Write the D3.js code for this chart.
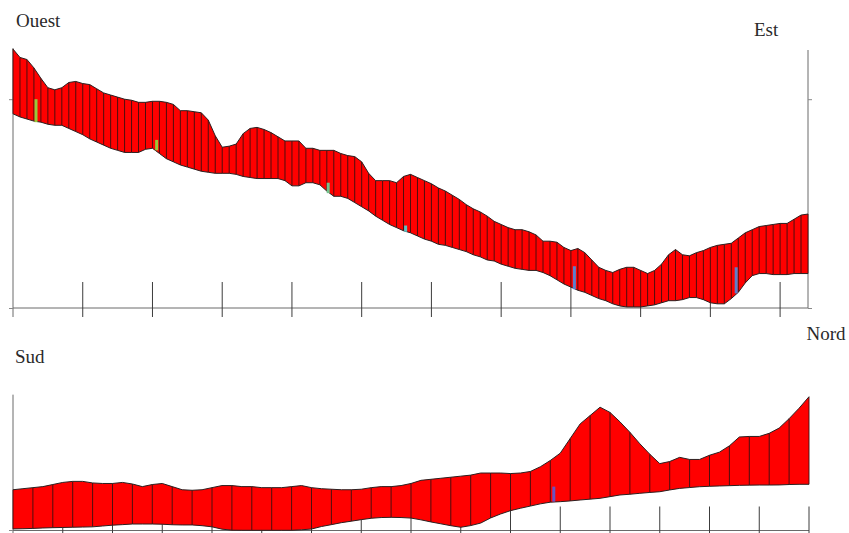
<!DOCTYPE html>
<html>
<head>
<meta charset="utf-8">
<script src="https://cdn.jsdelivr.net/npm/d3@7"></script>
<style>
body { margin: 0; background: #fff; }
svg { display: block; }
.label { font-family: "Liberation Serif", "Times New Roman", serif; font-size: 19px; fill: #2a2a2a; }
</style>
</head>
<body>
<svg id="chart" width="849" height="533"></svg>
<script>
// coupe Ouest-Est : un point tous les 0.1 km
var ouestEstStep = 0.1;
var ouestEstHaut = [248,240,238,230,220,211,209,211,216,217,
	215,214,210,206,204,202,200,199,197,197,
	198,198,197,195,189,189,188,187,180,165,
	154,155,157,167,172,173,171,168,164,160,
	160,160,153,153,151,151,151,148,146,145,
	140,129,122,122,122,120,126,128,125,122,
	119,115,112,108,104,99,95,92,88,83,
	80,77,75,75,73,70,64,64,63,58,
	55,57,53,46,39,36,34,37,39,39,
	36,33,36,42,51,56,51,50,53,55,
	58,60,61,62,67,72,75,78,79,80,
	81,81,85,89,90];
var ouestEstBas = [186,183,181,179,178,176,175,175,172,169,
	166,162,159,156,153,151,149,149,149,152,
	153,148,143,140,137,135,133,131,130,129,
	129,129,128,126,125,124,124,124,124,122,
	117,117,120,120,118,112,107,107,105,101,
	97,93,88,84,80,77,74,72,69,66,
	64,61,60,58,56,54,51,49,46,45,
	42,40,38,37,36,36,34,31,27,23,
	20,17,15,12,9,7,4,2,1,1,
	1,2,3,5,7,7,8,10,10,8,
	5,4,4,9,15,24,31,33,33,32,
	32,32,33,33,33];
var ouestEstTicks = [1,2,3,4,5,6,7,8,9,10,11];

// forages sur la coupe Ouest-Est
var ouestEstPuits = [0.33, 2.06, 4.52, 5.63, 8.05, 10.37];
var ouestEstPuitsHaut = [200, 161, 120, 79, 40, 39];
var ouestEstPuitsBas = [178, 151, 110, 73, 18, 14];

// coupe Sud-Nord : un point tous les 0.2 km
var sudNordStep = 0.2;
var sudNordHaut = [39,40,41,42,44,46,47,47,45.5,45,
	45,46,44.5,42,44,45,42,39,38.5,39,
	41,43,43,42,42,41,41,41,42,43,
	41,40,39.5,39,39,39.5,41,42,42,43,
	45,48,49,50,51,52,53,55,55,55,
	54.5,55,56.5,61,67,74,88,102,110,118,
	113,104,94,83,73,64,66,70,68,68,
	72,75,81,89.5,90,90,93,98,107,117,
	128];
var sudNordBas = [1.5,1.7,2,2.4,2.7,2.9,3.1,3.3,3.5,4.3,
	5.1,5.6,6.2,6.2,6.2,6,5.5,5.3,5.3,4.6,
	3.5,1.3,0.3,0.2,0.2,0.2,0.2,0.2,0.2,0.7,
	1.4,3.8,5.6,7.5,8.9,10.4,11.7,12.4,12.6,12.4,
	11.9,10.2,8.2,6.4,4.6,3.1,4.7,7.1,12,15.8,
	19,21.3,23.4,25.5,27.1,27.6,28.3,29.2,30,30.8,
	32.4,34,34.7,35.6,36.4,37.1,38.8,40.3,41.1,41.9,
	42.3,42.6,42.9,43.2,43.4,43.5,43.5,43.6,44,44.2,
	44.2];
var sudNordTicks = [1,2,3,4,5,6,7,8,9,10,11,12,13,14,15,16];

var sudNordPuits = [10.87];
var sudNordPuitsHaut = [42];
var sudNordPuitsBas = [27.6];

var ouestEstColors = ['#97c83c', '#97c83c', '#72c28c', '#5cc3c4', '#5b80cc', '#5b80cc'];
var sudNordColors = ['#6a52c0'];

var svg = d3.select("#chart");

function drawProfile(g, x, y, step, haut, bas, sepEvery) {
	var data = _rows(step, haut, bas);

	var area = d3.area()
		.x(function(d) { return x(d.dist); })
		.y0(function(d) { return y(d.bas); })
		.y1(function(d) { return y(d.haut); });

	g.append("path")
		.datum(data)
		.attr("d", area)
		.style("fill", "#ff0000");

	g.selectAll("line.sep")
		.data(data.filter(function(d, i) { return i % sepEvery == 0; }))
		.enter()
		.append("line")
		.attr("class", "sep")
		.attr("x1", function(d) { return x(d.dist); })
		.attr("x2", function(d) { return x(d.dist); })
		.attr("y1", function(d) { return y(d.bas); })
		.attr("y2", function(d) { return y(d.haut); })
		.style("stroke", "#3a1010")
		.style("stroke-width", 0.9);

	var lineHaut = d3.line()
		.x(function(d) { return x(d.dist); })
		.y(function(d) { return y(d.haut); });
	var lineBas = d3.line()
		.x(function(d) { return x(d.dist); })
		.y(function(d) { return y(d.bas); });

	g.append("path").datum(data).attr("d", lineHaut)
		.style("fill", "none").style("stroke", "#2a2020").style("stroke-width", 1);
	g.append("path").datum(data).attr("d", lineBas)
		.style("fill", "none").style("stroke", "#2a2020").style("stroke-width", 1);
}

function _rows(step, haut, bas) {
	return haut.map(function(h, i) {
		return {dist: i * step, haut: h, bas: bas[i]};
	});
}

function drawPuits(g, x, y, pos, haut, bas, colors) {
	g.selectAll("rect.puits")
		.data(pos)
		.enter()
		.append("rect")
		.attr("class", "puits")
		.attr("x", function(d) { return x(d) - 1.5; })
		.attr("width", 3)
		.attr("y", function(d, i) { return y(haut[i]); })
		.attr("height", function(d, i) { return y(bas[i]) - y(haut[i]); })
		.style("fill", function(d, i) { return colors[i]; });
}

function drawTicks(g, x, y0, ticks, up, down) {
	g.selectAll("line.tick")
		.data(ticks)
		.enter()
		.append("line")
		.attr("class", "tick")
		.attr("x1", function(d) { return x(d); })
		.attr("x2", function(d) { return x(d); })
		.attr("y1", y0 - up)
		.attr("y2", y0 + down)
		.style("stroke", "#3c3c3c")
		.style("stroke-width", 1);
}

function vline(g, xv, ya, yb, color) {
	g.append("line").attr("x1", xv).attr("x2", xv).attr("y1", ya).attr("y2", yb)
		.style("stroke", color).style("stroke-width", 1);
}
function hline(g, xa, xb, yv, color) {
	g.append("line").attr("x1", xa).attr("x2", xb).attr("y1", yv).attr("y2", yv)
		.style("stroke", color).style("stroke-width", 1);
}

function loadOuestEst() {
	var x = d3.scaleLinear().domain([0, 11.4]).range([13, 808]);
	var y = d3.scaleLinear().domain([0, 250]).range([308, 47]);
	var g = svg.append("g");

	// axes
	vline(g, x(0), y(250) + 1, 317, "#6a6a6a");
	vline(g, x(11.4), 50, y(0), "#6a6a6a");
	hline(g, x(0), x(11.4), y(0), "#6a6a6a");
	g.append("g")
		.attr("transform", "translate(" + x(0) + ",0)")
		.call(d3.axisLeft(y).tickValues([0, 200]).tickSize(4).tickFormat(""))
		.call(function(a) { a.select(".domain").remove(); a.selectAll("line").style("stroke", "#888"); });
	g.append("g")
		.attr("transform", "translate(" + x(11.4) + ",0)")
		.call(d3.axisRight(y).tickValues([0, 200]).tickSize(4).tickFormat(""))
		.call(function(a) { a.select(".domain").remove(); a.selectAll("line").style("stroke", "#888"); });
	drawTicks(g, x, y(0), ouestEstTicks, 26, 9);

	drawProfile(g, x, y, ouestEstStep, ouestEstHaut, ouestEstBas, 1);
	drawPuits(g, x, y, ouestEstPuits, ouestEstPuitsHaut, ouestEstPuitsBas, ouestEstColors);

	g.append("text").attr("class", "label").attr("x", 16).attr("y", 26.5).text("Ouest");
	g.append("text").attr("class", "label").attr("x", 754).attr("y", 36).text("Est");
}

function loadSudNord() {
	var x = d3.scaleLinear().domain([0, 16]).range([13, 809]);
	var y = d3.scaleLinear().domain([0, 140]).range([530.5, 384.2]);
	var g = svg.append("g");

	vline(g, x(0), y(130), 533, "#6a6a6a");
	hline(g, x(0), x(16), y(0), "#6a6a6a");
	hline(g, x(0) - 4, x(0), y(0), "#888");
	drawTicks(g, x, y(0), sudNordTicks, 24, 4);

	drawProfile(g, x, y, sudNordStep, sudNordHaut, sudNordBas, 2);
	drawPuits(g, x, y, sudNordPuits, sudNordPuitsHaut, sudNordPuitsBas, sudNordColors);

	g.append("text").attr("class", "label").attr("x", 15).attr("y", 362.5).text("Sud");
	g.append("text").attr("class", "label").attr("x", 806.5).attr("y", 340).text("Nord");
}

loadOuestEst();
loadSudNord();
</script>
</body>
</html>
